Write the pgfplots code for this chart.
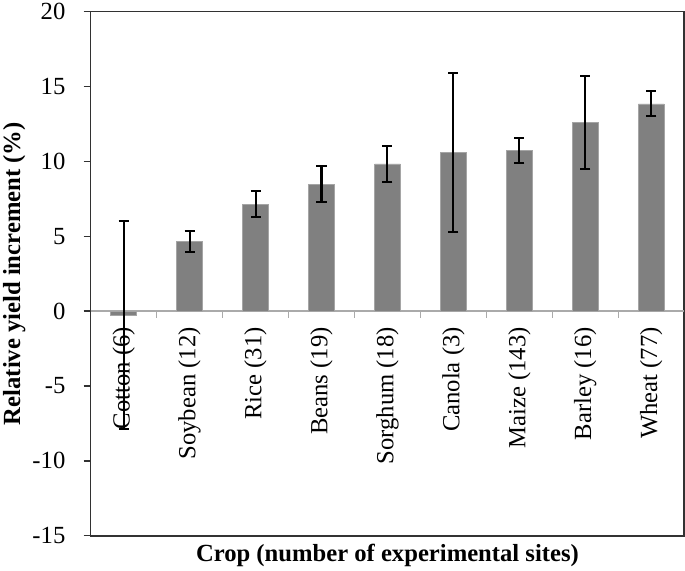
\documentclass[border=0pt]{standalone}
\usepackage{fontspec}
\setmainfont{Liberation Serif}
\usepackage{pgfplots}
\usepackage{pgfplotstable}
\pgfplotsset{compat=1.18}

\definecolor{barfill}{RGB}{128,128,128}
\definecolor{baredge}{RGB}{165,165,165}
\definecolor{framegray}{RGB}{50,50,50}
\definecolor{zeroline}{RGB}{170,170,170}

% crop index, mean increment, error up, error down
\pgfplotstableread{
x y eplus eminus
0 -0.3 6.3 7.6
1 4.64 0.69 0.68
2 7.15 0.85 0.83
3 8.47 1.22 1.21
4 9.83 1.23 1.23
5 10.57 5.33 5.30
6 10.71 0.85 0.82
7 12.59 3.10 3.10
8 13.84 0.85 0.80
}\yielddata

\begin{document}
\begin{tikzpicture}[font=\fontsize{24.5}{29}\selectfont]
\begin{axis}[
    scale only axis,
    width=590pt, height=521pt,
    xmin=-0.5, xmax=8.5,
    ymin=-15, ymax=20,
    axis lines=box,
    axis line style={framegray, line width=1.6pt},
    xtick=\empty,
    ytick={-15,-10,-5,0,5,10,15,20},
    yticklabels={-15,-10,-5,0,5,10,15,20},
    ytick pos=left,
    tick align=outside,
    major tick length=7pt,
    tick style={framegray, line width=1.4pt},
    yticklabel style={inner xsep=0pt, xshift=-18pt},
    xlabel={Crop (number of experimental sites)},
    ylabel={Relative yield increment (\%)},
    label style={font=\fontsize{24.5}{29}\selectfont\bfseries},
    xlabel style={yshift=2pt},
    ylabel style={at={(rel axis cs:0,0.5)}, anchor=center, inner sep=3pt,
      yshift=76pt},
    clip=false,
]
  % plot area frame (top and right)
  \draw[framegray, line width=1.6pt] (rel axis cs:0,1) -- (rel axis cs:1,1) -- (rel axis cs:1,0);
  % zero line and category ticks
  \draw[zeroline, line width=1.4pt] (axis cs:-0.5,0) -- (axis cs:8.5,0);
  \pgfplotsinvokeforeach{0.5,1.5,2.5,3.5,4.5,5.5,6.5,7.5}{
    \draw[zeroline, line width=1.4pt] (axis cs:#1,0) -- ++(0pt,-7pt);
  }

  \addplot[ybar, bar width=0.39, fill=barfill, draw=baredge, line width=0.8pt,
    error bars/.cd, y dir=both, y explicit,
    error bar style={black, line width=2pt},
    error mark options={rotate=90, mark size=5pt, line width=2pt, black}]
    table[x=x, y=y, y error plus=eplus, y error minus=eminus] {\yielddata};

  % category labels hanging below the zero line
  \tikzset{lbl/.style={rotate=90, anchor=east, inner sep=0pt, outer xsep=16pt}}
  \node[lbl] at (axis cs:0,0) {Cotton (6)};
  \node[lbl] at (axis cs:1,0) {Soybean (12)};
  \node[lbl] at (axis cs:2,0) {Rice (31)};
  \node[lbl] at (axis cs:3,0) {Beans (19)};
  \node[lbl] at (axis cs:4,0) {Sorghum (18)};
  \node[lbl] at (axis cs:5,0) {Canola (3)};
  \node[lbl] at (axis cs:6,0) {Maize (143)};
  \node[lbl] at (axis cs:7,0) {Barley (16)};
  \node[lbl] at (axis cs:8,0) {Wheat (77)};
\end{axis}
\end{tikzpicture}
\end{document}
